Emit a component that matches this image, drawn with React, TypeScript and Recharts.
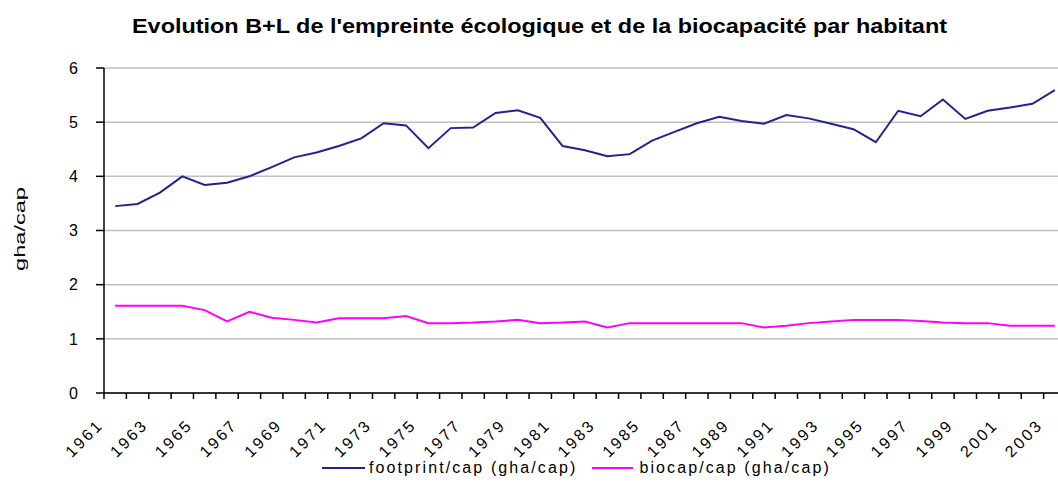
import React from 'react';
import { LineChart, Line, XAxis, YAxis, CartesianGrid, Legend } from 'recharts';

const years = [
  '1961', '1962', '1963', '1964', '1965', '1966', '1967', '1968', '1969', '1970',
  '1971', '1972', '1973', '1974', '1975', '1976', '1977', '1978', '1979', '1980',
  '1981', '1982', '1983', '1984', '1985', '1986', '1987', '1988', '1989', '1990',
  '1991', '1992', '1993', '1994', '1995', '1996', '1997', '1998', '1999', '2000',
  '2001', '2002', '2003',
];

const footprint = [
  3.45, 3.49, 3.70, 4.00, 3.84, 3.88, 4.00, 4.17, 4.35, 4.44,
  4.56, 4.70, 4.98, 4.94, 4.52, 4.89, 4.90, 5.17, 5.22, 5.08,
  4.56, 4.48, 4.37, 4.41, 4.66, 4.82, 4.98, 5.10, 5.02, 4.97,
  5.13, 5.07, 4.97, 4.87, 4.63, 5.21, 5.11, 5.42, 5.06, 5.21,
  5.27, 5.34, 5.59,
];

const biocap = [
  1.61, 1.61, 1.61, 1.61, 1.53, 1.32, 1.50, 1.39, 1.35, 1.30,
  1.38, 1.38, 1.38, 1.42, 1.29, 1.29, 1.30, 1.32, 1.35, 1.29,
  1.30, 1.32, 1.21, 1.29, 1.29, 1.29, 1.29, 1.29, 1.29, 1.21,
  1.24, 1.29, 1.32, 1.35, 1.35, 1.35, 1.33, 1.30, 1.29, 1.29,
  1.24, 1.24, 1.24,
];

const yTicks = [0, 1, 2, 3, 4, 5, 6];

const titleText = "Evolution B+L de l'empreinte écologique et de la biocapacité par habitant";
const footprintName = 'footprint/cap (gha/cap)';
const biocapName = 'biocap/cap (gha/cap)';

const data = years.map((year, i) => ({ year, footprint: footprint[i], biocap: biocap[i] }));

const HALF = 11.19;
const FONT = 'Arial, "Liberation Sans", sans-serif';

// ticks sit between the years (Excel style), labels on every other year
const XTick = (props: any) => {
  const { x, y, payload, index } = props;
  const last = index === years.length - 1;
  return (
    <g>
      <line x1={x - HALF} x2={x - HALF} y1={y} y2={y + 6} stroke="#000" strokeWidth={1.5} />
      {last && <line x1={x + HALF} x2={x + HALF} y1={y} y2={y + 6} stroke="#000" strokeWidth={1.5} />}
      {index % 2 === 0 && (
        <text
          x={0}
          y={0}
          textAnchor="end"
          fill="#000"
          transform={`translate(${x - 11},${y + 33}) rotate(-45)`}
          style={{ fontSize: 16, fontFamily: FONT, letterSpacing: 2.5 }}
        >
          {payload.value}
        </text>
      )}
    </g>
  );
};

const LegendContent = () => (
  <div style={{ height: 30, display: 'flex', alignItems: 'center', paddingLeft: 322, fontFamily: FONT, fontSize: 16, letterSpacing: 2.1 }}>
    <span style={{ display: 'inline-block', width: 43, height: 2, background: '#22228f', marginRight: 4 }} />
    <span style={{ marginRight: 15 }}>{footprintName}</span>
    <span style={{ display: 'inline-block', width: 41, height: 2, background: '#ff00ff', marginRight: 6 }} />
    <span>{biocapName}</span>
  </div>
);

const YLabel = () => (
  <text
    x={0}
    y={0}
    transform="translate(25,229) rotate(-90)"
    textAnchor="middle"
    textLength={84}
    lengthAdjust="spacingAndGlyphs"
    style={{ fontSize: 14, fontFamily: FONT }}
    fill="#000"
  >
    gha/cap
  </text>
);

export default function App() {
  return (
    <div style={{ position: 'absolute', left: 0, top: 0, width: 1058, height: 483, overflow: 'hidden', background: '#fff' }}>
      <svg width={1058} height={60} style={{ position: 'absolute', left: 0, top: 0 }}>
        <text x={132} y={33} textLength={815} lengthAdjust="spacingAndGlyphs" style={{ fontSize: 20, fontWeight: 'bold', fontFamily: FONT }} fill="#000">
          {titleText}
        </text>
      </svg>
      <LineChart width={1070} height={483} data={data} margin={{ top: 68, right: 4, left: 0, bottom: 0 }}>
        <CartesianGrid vertical={false} stroke="#c0c0c0" strokeWidth={1.5} />
        <XAxis
          dataKey="year"
          interval={0}
          tickSize={0}
          tickMargin={0}
          height={60}
          padding={{ left: HALF, right: HALF }}
          stroke="#000"
          strokeWidth={1.5}
          tick={<XTick />}
        />
        <YAxis
          domain={[0, 6]}
          ticks={yTicks}
          width={104}
          tickSize={8}
          tickMargin={18}
          stroke="#000"
          strokeWidth={1.5}
          tick={{ fill: '#000', fontSize: 16, fontFamily: FONT }}
          label={<YLabel />}
        />
        <Legend verticalAlign="bottom" height={30} content={<LegendContent />} />
        <Line type="linear" dataKey="footprint" name={footprintName} stroke="#22228f" strokeWidth={2} dot={false} isAnimationActive={false} />
        <Line type="linear" dataKey="biocap" name={biocapName} stroke="#ff00ff" strokeWidth={2} dot={false} isAnimationActive={false} />
      </LineChart>
    </div>
  );
}
